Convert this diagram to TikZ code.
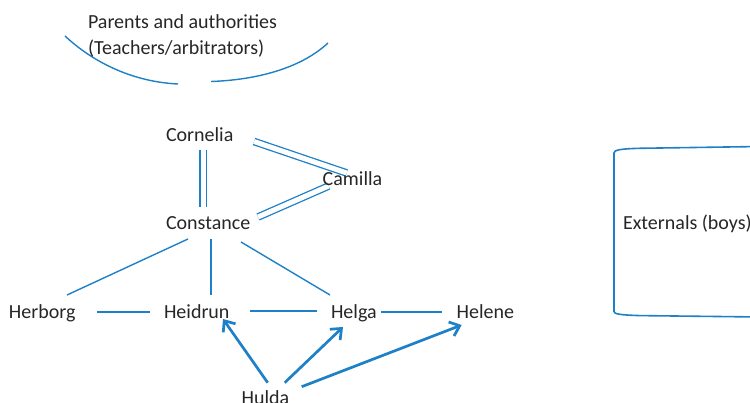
\documentclass[tikz,border=0pt]{standalone}
\usepackage{fontspec}
\setmainfont{Carlito}
\usetikzlibrary{arrows.meta,backgrounds}
\definecolor{lineblue}{RGB}{30,128,198}
\definecolor{txt}{RGB}{38,38,38}
\begin{document}
\begin{tikzpicture}[x=1pt,y=-1pt,
  lbl/.style={anchor=base west,inner sep=0pt,outer sep=0pt,text=txt,font=\fontsize{20}{26.5}\selectfont},
  thin/.style={draw=lineblue,line width=1.4pt},
  dbl/.style={draw=lineblue,line width=1.3pt,double=white,double distance=5pt},
  thick/.style={draw=lineblue,line width=2.7pt,-{Straight Barb[length=9pt,width=15pt,line width=2.7pt]}},
  frame/.style={draw=lineblue,line width=1.6pt}]
\useasboundingbox (0,0) rectangle (750,403);
% text nodes
\node[lbl,align=left] (par) at (88,55) {Parents and authorities\\(Teachers/arbitrators)};
\node[lbl] (corn) at (166,142) {Cornelia};
\node[lbl] (cam) at (322.7,186) {Camilla};
\node[lbl] (cons) at (166,230) {Constance};
\node[lbl] (herb) at (9,319) {Herborg};
\node[lbl] (heid) at (164,319) {Heidrun};
\node[lbl] (helga) at (331,319) {Helga};
\node[lbl] (helene) at (456.7,319) {Helene};
\node[lbl] (hulda) at (241.7,404.7) {Hulda};
\node[lbl] (ext) at (623,230) {Externals (boys)};
\begin{pgfonlayer}{background}
% arcs around parents
\draw[frame,line width=1.4pt] (65,36) .. controls (95,64) and (135,82) .. (178,84);
\draw[frame,line width=1.4pt] (211,81.5) .. controls (255,80) and (300,69) .. (328,43);
% externals frame
\draw[frame] (760,146.5) -- (640,148.3) .. controls (620,148.8) and (614,150) .. (614,153)
  -- (614,311.5) .. controls (614,314) and (620,315) .. (640,315.6) -- (760,317);
% double lines
\draw[dbl] ([shift={(37,8)}]corn.base west) -- ([shift={(37,-23)}]cons.base west);
\draw[dbl] ([shift={(88,-0.5)}]corn.base west) -- ([shift={(24,-13)}]cam.base west);
\draw[dbl] ([shift={(92,-13)}]cons.base west) -- ([shift={(6,0)}]cam.base west);
% thin lines
\draw[thin] ([shift={(22,9)}]cons.base west) -- ([shift={(58,-24)}]herb.base west);
\draw[thin] ([shift={(45,9)}]cons.base west) -- ([shift={(47,-24)}]heid.base west);
\draw[thin] ([shift={(75,12)}]cons.base west) -- ([shift={(-1,-24)}]helga.base west);
\draw[thin] ([shift={(88,-7)}]herb.base west) -- ([shift={(-14,-7)}]heid.base west);
\draw[thin] ([shift={(86,-8)}]heid.base west) -- ([shift={(-14,-8)}]helga.base west);
\draw[thin] ([shift={(50,-7)}]helga.base west) -- ([shift={(-15,-7)}]helene.base west);
% thick arrows
\draw[thick] ([shift={(26,-22)}]hulda.base west) -- ([shift={(59,0)}]heid.base west);
\draw[thick] ([shift={(43,-22)}]hulda.base west) -- ([shift={(12,8)}]helga.base west);
\draw[thick] ([shift={(60,-18)}]hulda.base west) -- ([shift={(5,6)}]helene.base west);
\end{pgfonlayer}
\end{tikzpicture}
\end{document}
